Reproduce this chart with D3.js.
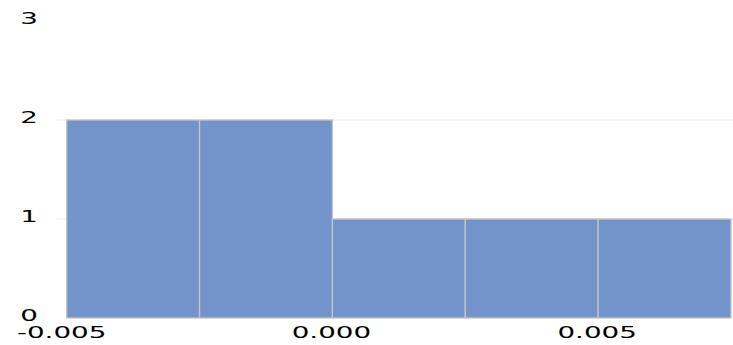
<!DOCTYPE html>
<html>
<head>
<meta charset="utf-8">
<script src="https://cdn.jsdelivr.net/npm/d3@7"></script>
<style>
  html, body { margin: 0; padding: 0; background: #fff; }
  svg { display: block; }
  text { font-family: "DejaVu Sans", sans-serif; fill: #000; }
</style>
</head>
<body>
<svg id="chart" width="733" height="345"></svg>
<script>
// Histogram bins (edges) and counts
const binStarts = [-0.005, -0.0025, 0.0, 0.0025, 0.005];
const binWidth = 0.0025;
const counts = [2, 2, 1, 1, 1];
const xTicks = [-0.005, 0.0, 0.005];
const xTickLabels = ["-0.005", "0.000", "0.005"];
const yTicks = [0, 1, 2, 3];
const yTickLabels = ["0", "1", "2", "3"];

const W = 733, H = 345;
const svg = d3.select("#chart");

const x = d3.scaleLinear().domain([-0.005, 0.0075]).range([66.7, 731]);
const y = d3.scaleLinear().domain([0, 3]).range([318, 21]);

// horizontal gridlines
svg.append("g")
  .selectAll("line")
  .data(yTicks.filter(d => d > 0 && d < 3))
  .join("line")
  .attr("x1", 57).attr("x2", W)
  .attr("y1", d => y(d)).attr("y2", d => y(d))
  .attr("stroke", "#ececec").attr("stroke-width", 1);

// bars
svg.append("g")
  .selectAll("rect")
  .data(binStarts.map((s, i) => ({ s, c: counts[i] })))
  .join("rect")
  .attr("x", d => x(d.s))
  .attr("y", d => y(d.c))
  .attr("width", d => x(d.s + binWidth) - x(d.s))
  .attr("height", d => y(0) - y(d.c))
  .attr("fill", "#7394cb")
  .attr("stroke", "#c4c4c4")
  .attr("stroke-width", 1.3);

// wide tick labels
const stretch = 1.85;
function widen(sel) {
  sel.each(function () {
    const len = this.getComputedTextLength();
    d3.select(this)
      .attr("textLength", len * stretch)
      .attr("lengthAdjust", "spacingAndGlyphs");
  });
}

svg.append("g")
  .selectAll("text")
  .data(yTicks)
  .join("text")
  .attr("x", 38)
  .attr("y", d => y(d) + 3)
  .attr("text-anchor", "end")
  .attr("font-size", 15)
  .text((d, i) => yTickLabels[i])
  .call(widen);

svg.append("g")
  .selectAll("text")
  .data(xTicks)
  .join("text")
  .attr("x", (d, i) => x(d) + (i === 0 ? -5 : -1))
  .attr("y", 338)
  .attr("text-anchor", "middle")
  .attr("font-size", 15)
  .text((d, i) => xTickLabels[i])
  .call(widen);
</script>
</body>
</html>
